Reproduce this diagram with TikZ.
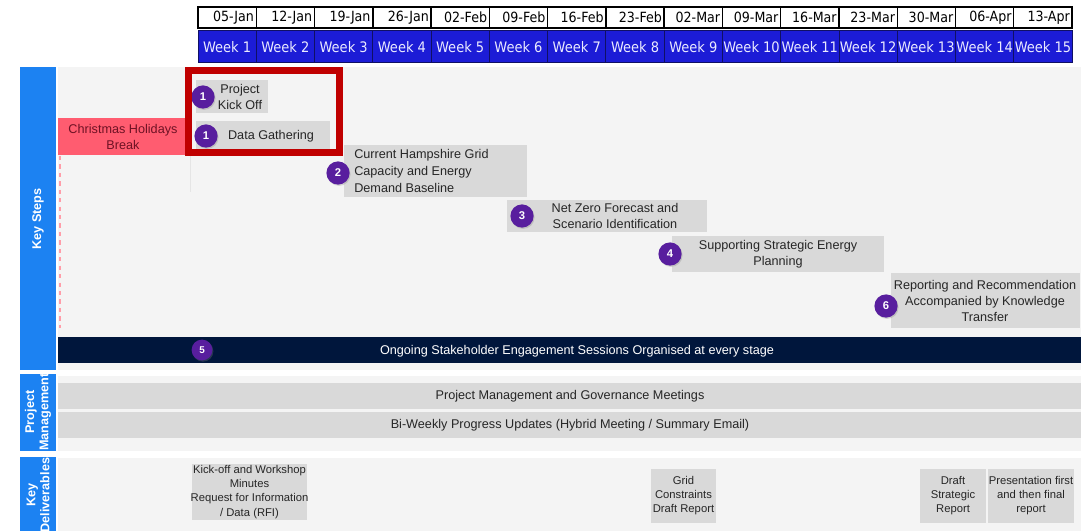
\documentclass[tikz,border=0pt]{standalone}
\usepackage{fontspec}
\setmainfont{Liberation Sans}
\newfontfamily\hdrfont{DejaVu Sans Condensed}
\usetikzlibrary{shadows}
\definecolor{weekblue}{RGB}{28,28,214}
\definecolor{weekline}{RGB}{16,16,100}
\definecolor{stripblue}{RGB}{28,130,242}
\definecolor{panelgray}{RGB}{244,244,244}
\definecolor{boxgray}{RGB}{217,217,217}
\definecolor{numpurple}{RGB}{88,30,158}
\definecolor{navybar}{RGB}{0,22,60}
\definecolor{xmaspink}{RGB}{255,92,112}
\definecolor{xmastext}{RGB}{110,18,36}
\definecolor{redframe}{RGB}{192,0,0}

\begin{document}
\begin{tikzpicture}[x=0.025cm,y=-0.025cm,
    steptext/.style={font=\fontsize{9}{11.5}\selectfont,align=center,text=black!85,inner sep=0pt},
    delitext/.style={font=\fontsize{8}{10}\selectfont,align=center,text=black!85,inner sep=0pt},
    numdot/.style={circle,fill=numpurple,text=white,font=\fontsize{8}{8}\selectfont\bfseries,
        minimum size=0.58cm,inner sep=0pt,
        drop shadow={opacity=0.3,shadow xshift=0.7pt,shadow yshift=-0.9pt}},
    sidetext/.style={rotate=90,text=white,font=\fontsize{9}{10}\selectfont\bfseries,align=center,inner sep=0pt}]
    \useasboundingbox (0,0) rectangle (1091,531);
    \fill[white] (0,0) rectangle (1091,531);

    % timeline header
    \foreach \dt [count=\i] in {05-Jan,12-Jan,19-Jan,26-Jan,02-Feb,09-Feb,16-Feb,23-Feb,02-Mar,09-Mar,16-Mar,23-Mar,30-Mar,06-Apr,13-Apr} {
        \draw[line width=1pt] ({198+(\i-1)*58.27},7) rectangle ({198+\i*58.27},28);
        \node[anchor=east,inner sep=0pt,font=\hdrfont\fontsize{10}{10}\selectfont] (d\i) at ({198+\i*58.27-2},17.5) {\dt};
        \draw[fill=weekblue,draw=weekline,line width=0.6pt] ({198+(\i-1)*58.27},30) rectangle ({198+\i*58.27},62);
        \node[text=blue!8,inner sep=0pt,font=\hdrfont\fontsize{10.3}{10}\selectfont] (w\i) at ({198+(\i-0.5)*58.27},47) {Week \i};
    }

    % section panels and side labels
    \fill[panelgray] (58,67) rectangle (1081,370);
    \fill[panelgray] (58,376) rectangle (1081,451);
    \fill[panelgray] (58,458) rectangle (1081,531);
    \fill[stripblue] (20,67) rectangle (56,370);
    \fill[stripblue] (20,374) rectangle (56,451);
    \fill[stripblue] (20,457) rectangle (56,531);
    \node[sidetext] (keysteps) at (38,219) {Key Steps};
    \node[sidetext] (projmgmt) at (38,412) {Project\\Management};
    \node[sidetext] (keydel) at (38,495) {Key\\Deliverables};

    % Christmas break
    \fill[xmaspink] (58,118) rectangle (188,155);
    \node[steptext,text=xmastext] (xmas) at (123,137) {Christmas Holidays\\Break};
    \draw[xmaspink!60,dashed,line width=0.8pt] (60,156) -- (60,328);
    \draw[gray!20,line width=0.5pt] (190,156) -- (190,192);

    % key steps
    \fill[boxgray] (196,80) rectangle (268,113);
    \node[steptext] (kickoff) at (240,97) {Project\\Kick Off};
    \node[numdot] (n1a) at (203,97) {1};

    \fill[boxgray] (196,121) rectangle (330,151);
    \node[steptext] (datagather) at (271,136) {Data Gathering};
    \node[numdot] (n1b) at (206,136) {1};

    \fill[boxgray] (344,145) rectangle (527,197);
    \node[steptext,align=left,anchor=west,font=\fontsize{9}{12}\selectfont] (baseline) at (354,171) {Current Hampshire Grid\\Capacity and Energy\\Demand Baseline};
    \node[numdot] (n2) at (338,173) {2};

    \fill[boxgray] (507,200) rectangle (707,232);
    \node[steptext] (netzero) at (615,216) {Net Zero Forecast and\\Scenario Identification};
    \node[numdot] (n3) at (522,216) {3};

    \fill[boxgray] (672,236) rectangle (884,272);
    \node[steptext] (planning) at (778,254) {Supporting Strategic Energy\\Planning};
    \node[numdot] (n4) at (670,254) {4};

    \fill[boxgray] (891,273) rectangle (1080,328);
    \node[steptext] (reporting) at (985,301) {Reporting and Recommendation\\Accompanied by Knowledge\\Transfer};
    \node[numdot] (n6) at (886,306) {6};

    \fill[navybar] (58,337) rectangle (1081,363);
    \node[steptext,text=white] (engage) at (577,351) {Ongoing Stakeholder Engagement Sessions Organised at every stage};
    \node[numdot,minimum size=0.52cm,font=\fontsize{7}{7}\selectfont\bfseries] (n5) at (202,350) {5};

    % highlight frame
    \draw[redframe,line width=5pt] (188.5,70.5) rectangle (339.5,152.5);

    % project management
    \fill[boxgray] (58,383) rectangle (1081,409);
    \node[steptext] (governance) at (570,396) {Project Management and Governance Meetings};
    \fill[boxgray] (58,412) rectangle (1081,438);
    \node[steptext] (biweekly) at (570,425) {Bi-Weekly Progress Updates (Hybrid Meeting / Summary Email)};

    % key deliverables
    \fill[boxgray] (192,464) rectangle (307,520);
    \node[delitext] (del1) at (249.5,492) {Kick-off and Workshop\\Minutes\\Request for Information\\/ Data (RFI)};
    \fill[boxgray] (651,469) rectangle (716,523);
    \node[delitext] (del2) at (683.5,496) {Grid\\Constraints\\Draft Report};
    \fill[boxgray] (920,469) rectangle (986,523);
    \node[delitext] (del3) at (953,496) {Draft\\Strategic\\Report};
    \fill[boxgray] (988,469) rectangle (1074,523);
    \node[delitext] (del4) at (1031,496) {Presentation first\\and then final\\report};
\end{tikzpicture}
\end{document}
